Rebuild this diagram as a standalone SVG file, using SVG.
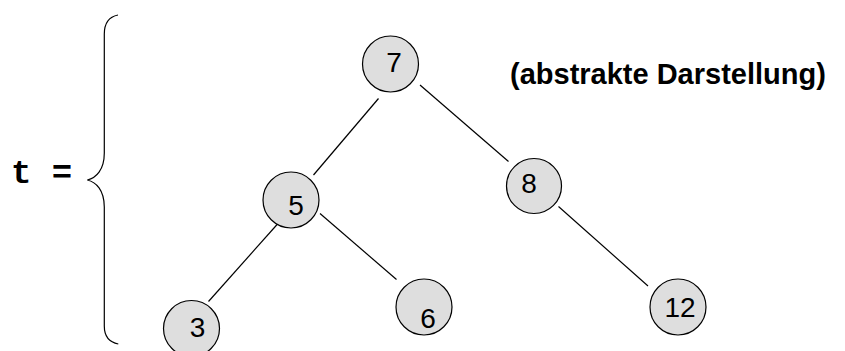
<svg xmlns="http://www.w3.org/2000/svg" width="845" height="351" viewBox="0 0 845 351">
<style>
.n{fill:#dedede;stroke:#000;stroke-width:1.2}
.t{font-family:"Liberation Sans",Arial,sans-serif;font-size:28px;fill:#000;text-anchor:middle}
.e{stroke:#000;stroke-width:1.2;fill:none}
</style>
<rect width="845" height="351" fill="#fff"/>
<text x="11" y="183" font-family="'Liberation Mono',monospace" font-weight="bold" font-size="34">t =</text>
<path class="e" d="M118,15 C108,17 104.3,24 104.3,34 L104.3,153 C104.3,170 96,178 87.3,180 C96,182 104.3,190 104.3,207 L104.3,326 C104.3,336 108,342 118.3,344"/>
<text x="510" y="84" font-family="'Liberation Sans',Arial,sans-serif" font-weight="bold" font-size="29">(abstrakte Darstellung)</text>
<g id="edges">
<line class="e" x1="378.5" y1="98.5" x2="313.5" y2="175"/>
<line class="e" x1="420" y1="85" x2="508.5" y2="161.5"/>
<line class="e" x1="278" y1="223.5" x2="208.5" y2="301.5"/>
<line class="e" x1="320" y1="213.5" x2="396.5" y2="279.5"/>
<line class="e" x1="558.5" y1="206.5" x2="648" y2="286"/>
</g>
<g id="n7"><circle class="n" cx="390.5" cy="64" r="28"/><text class="t" x="394" y="72">7</text></g>
<g id="n5"><circle class="n" cx="291" cy="200" r="28"/><text class="t" x="296" y="215">5</text></g>
<g id="n8"><circle class="n" cx="534" cy="186" r="27.5"/><text class="t" x="529" y="193">8</text></g>
<g id="n3"><circle class="n" cx="191.5" cy="328.5" r="28"/><text class="t" x="197.5" y="337">3</text></g>
<g id="n6"><circle class="n" cx="424" cy="307" r="28"/><text class="t" x="428" y="328">6</text></g>
<g id="n12"><circle class="n" cx="678" cy="307" r="28"/><text class="t" x="680" y="317">12</text></g>
</svg>
